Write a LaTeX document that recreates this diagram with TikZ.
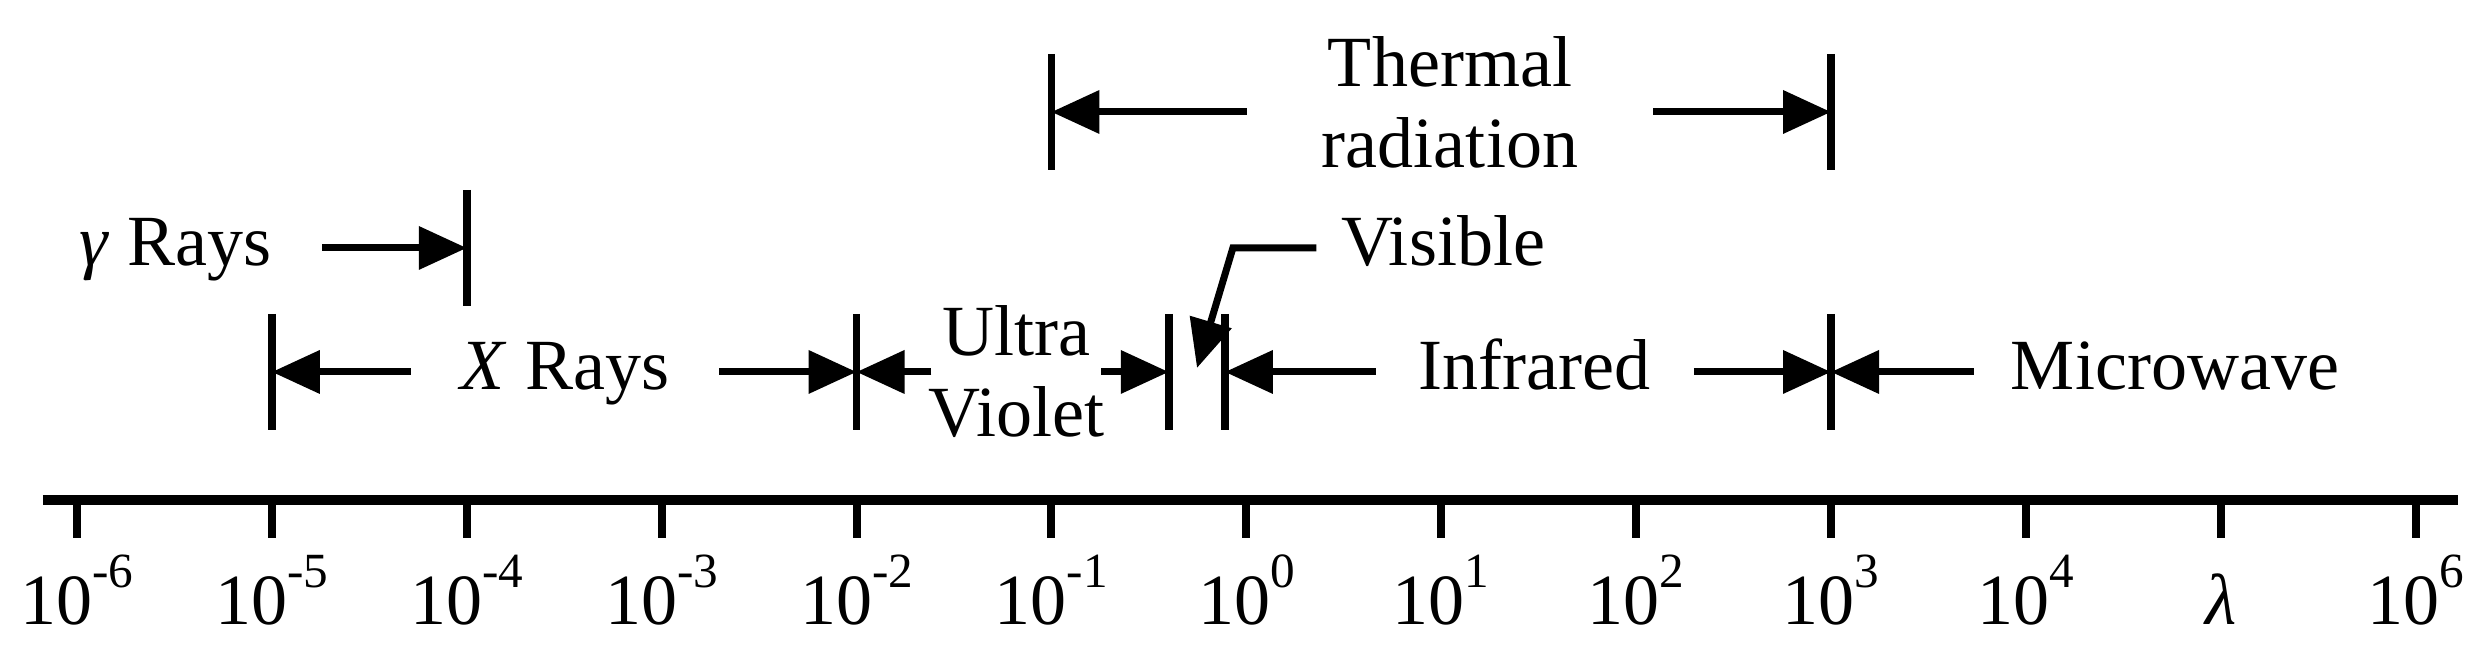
\documentclass[tikz,border=0pt]{standalone}
\usepackage{fontspec}
\setmainfont{Liberation Serif}
\usepackage{tikz}
\usetikzlibrary{arrows.meta,positioning}
\newcommand{\tenpow}[1]{10\raisebox{0.37cm}{\fontsize{14}{14}\selectfont #1}}
\tikzset{
  sp_lbl/.style={
    inner sep=0pt, outer xsep=0.45cm,
    text height=0.36cm, text depth=0cm,
    font=\fontsize{20.5}{23.2}\selectfont
  },
  sp_two/.style={
    inner sep=0pt, align=center,
    font=\fontsize{20.5}{23.2}\selectfont
  },
  sp_tick/.style={anchor=base, inner sep=0pt, font=\fontsize{20.5}{23.2}\selectfont},
  sp_axis/.style={line width=2.8pt},
  sp_mark/.style={line width=2.3pt},
  sp_bar/.style={line width=2.2pt},
  sp_arr/.style={-{Triangle[length=0.48cm,width=0.42cm]}, line width=2pt},
}

\begin{document}
\begin{tikzpicture}[x=1.949cm, y=1cm]
\useasboundingbox (-6.395,-1.59) rectangle (6.371,5.0);

% wavelength axis
\draw[sp_axis] (-6.175,0) -- (6.216,0);
\foreach \e in {-6,...,6}
  \draw[sp_mark] (\e,0) -- (\e,-0.38);
\foreach \e in {-6,...,4,6}
  \node[sp_tick] (n\e) at (\e,-1.25) {\tenpow{\e}};
\node[sp_tick] (lam) at (5,-1.25) {\textit{λ}};

% band limits
\coordinate (g4) at (-4,2.52);
\coordinate (x5) at (-5,1.28);
\coordinate (x2) at (-2,1.28);
\coordinate (uv) at (-0.398,1.28);
\coordinate (ir) at (-0.11,1.28);
\coordinate (mw) at (3,1.28);
\coordinate (t1) at (-1,3.88);
\coordinate (t3) at (3,3.88);
\foreach \c in {g4,x5,x2,uv,ir,mw,t1,t3}
  \draw[sp_bar] ([yshift=0.58cm]\c) -- ([yshift=-0.58cm]\c);

% band names
\node[sp_lbl, outer xsep=0.5cm]  (gam) at (-5.492,2.52) {\textit{γ} Rays};
\node[sp_lbl, outer xsep=0.5cm]  (xry) at (-3.496,1.28) {\textit{X} Rays};
\node[sp_two, text height=1.30cm, text depth=0cm, outer xsep=-0.03cm]
  (uvl) at (-1.18,1.28) {Ultra\\Violet};
\node[sp_lbl, outer xsep=0.43cm] (irl) at (1.48,1.28) {Infrared};
\node[sp_lbl, outer xsep=0.37cm] (mwl) at (4.765,1.28) {Microwave};
\node[sp_two, text height=1.33cm, text depth=0.21cm, outer xsep=0.75cm]
  (thl) at (1.045,3.88) {Thermal\\radiation};
\node[sp_lbl, outer xsep=0.25cm] (vis) at (1.01,2.52) {Visible};

% extent arrows
\draw[sp_arr] (gam) -- (g4);
\draw[sp_arr] (xry) -- (x5);
\draw[sp_arr] (xry) -- (x2);
\draw[sp_arr] (uvl) -- (x2);
\draw[sp_arr] (uvl) -- (uv);
\draw[sp_arr] (irl) -- (ir);
\draw[sp_arr] (irl) -- (mw);
\draw[sp_arr] (mwl) -- (mw);
\draw[sp_arr] (thl) -- (t1);
\draw[sp_arr] (thl) -- (t3);

% visible pointer
\coordinate (vk) at (-0.069,2.52);
\coordinate (vt) at (-0.253,1.32);
\draw[sp_arr] (vis) -- (vk) -- (vt);

\end{tikzpicture}
\end{document}
